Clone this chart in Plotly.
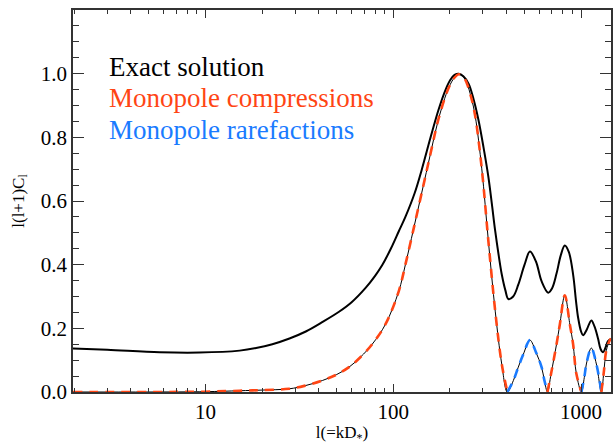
import plotly.graph_objects as go

# ---- data ----
exact_l = [1.97, 3.0, 5.7, 9.3, 15.2, 18.6, 22.7, 28.0, 34.2, 42.0, 51.4, 60.0, 71.2, 80.0, 87.2,
           97.0, 107, 116, 130, 142, 158, 174, 190, 201, 212, 223, 236, 252, 268, 284, 302, 321,
           335, 349, 364, 378, 395, 410, 435, 463, 500, 534, 575, 616, 668, 700, 740, 780, 819,
           860, 907, 940, 964, 1000, 1025, 1070, 1134, 1180, 1231, 1270, 1309, 1350, 1391, 1443]
exact_v = [0.137, 0.133, 0.125, 0.124, 0.130, 0.138, 0.150, 0.168, 0.190, 0.220, 0.252, 0.282,
           0.327, 0.365, 0.398, 0.450, 0.505, 0.550, 0.625, 0.700, 0.800, 0.886, 0.950, 0.980,
           0.996, 1.000, 0.992, 0.968, 0.918, 0.855, 0.770, 0.675, 0.590, 0.505, 0.430, 0.370,
           0.320, 0.292, 0.300, 0.337, 0.400, 0.441, 0.410, 0.348, 0.312, 0.325, 0.372, 0.430,
           0.460, 0.440, 0.369, 0.285, 0.234, 0.190, 0.178, 0.195, 0.225, 0.205, 0.168, 0.135,
           0.125, 0.140, 0.160, 0.166]

model_l = [1.97, 5.0, 10.0, 15.2, 20.0, 27.9, 34.0, 41.9, 50.0, 58.1, 67.0, 77.2, 90.9, 107, 116,
           128, 142, 158, 174, 197, 212, 223, 235, 246, 260, 273, 296, 321, 349, 378, 405,
           436, 463, 493, 534, 575, 616, 638, 662, 692, 740, 771, 819, 871, 907, 944, 1004,
           1040, 1067, 1134, 1206, 1282, 1320, 1362, 1420, 1443]
model_v = [0.0, 0.0, 0.001, 0.004, 0.006, 0.010, 0.020, 0.036, 0.055, 0.078, 0.110, 0.150,
           0.213, 0.317, 0.400, 0.510, 0.628, 0.750, 0.857, 0.955, 0.988, 0.998, 0.992, 0.971,
           0.925, 0.867, 0.701, 0.473, 0.254, 0.088, 0.0,
           0.036, 0.078, 0.119, 0.163, 0.125, 0.078, 0.036, 0.0, 0.057, 0.150, 0.213, 0.304,
           0.213, 0.150, 0.057, 0.0, 0.045, 0.088, 0.138, 0.088, 0.0, 0.060, 0.130, 0.162, 0.168]

# zero crossings splitting compression (red) and rarefaction (blue) parts
zero_edges = [405, 662, 1004, 1282]
segment_kind = ["compression", "rarefaction", "compression", "rarefaction", "compression"]

legend_labels = ["Exact solution", "Monopole compressions", "Monopole rarefactions"]
x_tickvals = [10, 100, 1000]
x_minor = [m * d for d in (1, 10, 100, 1000) for m in range(2, 10)]

RED = "#ff4514"
BLUE = "#1a7bff"
FONT = "Liberation Serif"

fig = go.Figure()
fig.add_trace(go.Scatter(x=exact_l, y=exact_v, mode="lines", line=dict(color="black", width=2, shape="spline"),
                         showlegend=False, name=legend_labels[0]))
fig.add_trace(go.Scatter(x=model_l, y=model_v, mode="lines", line=dict(color="black", width=1, shape="spline"),
                         showlegend=False))

bounds = [model_l[0]] + zero_edges + [model_l[-1]]
for i, kind in enumerate(segment_kind):
    lo, hi = bounds[i], bounds[i + 1]
    xs = [l for l in model_l if lo <= l <= hi]
    ys = [v for l, v in zip(model_l, model_v) if lo <= l <= hi]
    col = RED if kind == "compression" else BLUE
    fig.add_trace(go.Scatter(x=xs, y=ys, mode="lines",
                             line=dict(color=col, width=2.6, dash="9px,7px", shape="spline"),
                             showlegend=False,
                             name=legend_labels[1] if kind == "compression" else legend_labels[2]))

ys_leg = [0.852, 0.769, 0.686]
cols = ["black", RED, BLUE]
for lab, yy, c in zip(legend_labels, ys_leg, cols):
    fig.add_annotation(x=0.063, y=yy, xref="paper", yref="paper", text=lab, showarrow=False,
                       xanchor="left", yanchor="middle", font=dict(family=FONT, size=27, color=c))

axis_common = dict(showline=True, linecolor="#333", linewidth=1.5, mirror="allticks",
                   ticks="inside", showgrid=False, zeroline=False,
                   tickfont=dict(family=FONT, size=21, color="black"))

fig.update_xaxes(type="log", range=[0.2945, 3.1593], tickvals=x_tickvals, ticktext=["10", "100", "1000"],
                 ticklen=8, tickcolor="#333",
                 minor=dict(tickvals=x_minor, ticks="inside", ticklen=4, tickcolor="#333", showgrid=False),
                 title=dict(text="l(=kD<sub>*</sub>)", font=dict(family=FONT, size=17, color="black"), standoff=8),
                 **axis_common)
fig.update_yaxes(range=[0, 1.2], dtick=0.2, tickformat=".1f", ticklen=11, tickcolor="#333",
                 minor=dict(dtick=0.05, ticks="inside", ticklen=6, tickcolor="#333", showgrid=False),
                 title=dict(text="l(l+1)C<sub>l</sub>", font=dict(family=FONT, size=17, color="black"), standoff=12),
                 **axis_common)

fig.update_layout(width=614, height=445, margin=dict(l=73, r=1, t=10, b=50),
                  paper_bgcolor="white", plot_bgcolor="white")
fig.write_html("out.html")
